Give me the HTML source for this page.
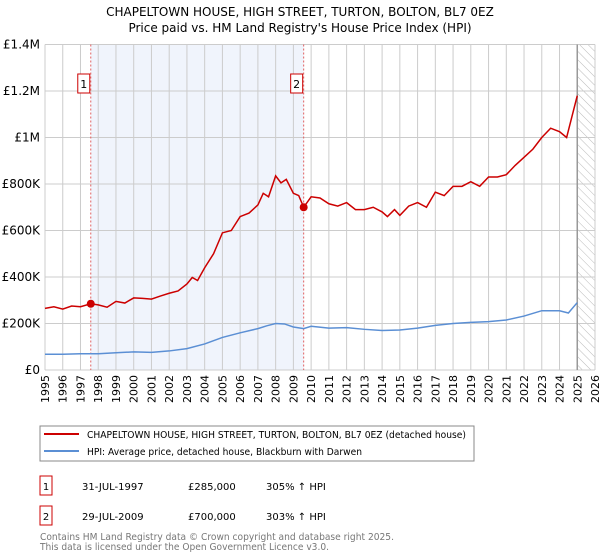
<!DOCTYPE html>
<html><head><meta charset="utf-8">
<style>
body{margin:0;background:#fff;font-family:"Liberation Sans","DejaVu Sans",sans-serif;}
#wrap{position:relative;width:600px;height:560px;overflow:hidden}
svg text{font-family:"DejaVu Sans","Liberation Sans",sans-serif;}
</style></head>
<body>
<div id="wrap">
<svg id="chart" width="600" height="560" xmlns="http://www.w3.org/2000/svg">
<defs>
<pattern id="hatch" width="6" height="6" patternUnits="userSpaceOnUse" patternTransform="rotate(-45)">
<line x1="0" y1="0" x2="0" y2="6" stroke="#bbb" stroke-width="1"/>
</pattern>
</defs>
<text x="300" y="16" text-anchor="middle" font-size="12" fill="#000">CHAPELTOWN HOUSE, HIGH STREET, TURTON, BOLTON, BL7 0EZ</text>
<text x="300" y="32" text-anchor="middle" font-size="12" fill="#000">Price paid vs. HM Land Registry's House Price Index (HPI)</text>
<g id="plot"></g>
<rect x="40" y="426" width="434" height="35" fill="#fff" stroke="#888"/>
<line x1="44" y1="434" x2="79" y2="434" stroke="#cc0000" stroke-width="2"/>
<text x="87" y="438" font-size="10" textLength="379" lengthAdjust="spacingAndGlyphs">CHAPELTOWN HOUSE, HIGH STREET, TURTON, BOLTON, BL7 0EZ (detached house)</text>
<line x1="44" y1="451" x2="79" y2="451" stroke="#5b8fd4" stroke-width="2"/>
<text x="87" y="455" font-size="10" textLength="275" lengthAdjust="spacingAndGlyphs">HPI: Average price, detached house, Blackburn with Darwen</text>
<rect x="40" y="476" width="12" height="19" fill="#fff" stroke="#cc0000"/>
<text x="46" y="490" font-size="10" text-anchor="middle">1</text>
<text x="82" y="490" font-size="10">31-JUL-1997</text>
<text x="188" y="490" font-size="10">£285,000</text>
<text x="266" y="490" font-size="10">305% ↑ HPI</text>
<rect x="40" y="506" width="12" height="19" fill="#fff" stroke="#cc0000"/>
<text x="46" y="520" font-size="10" text-anchor="middle">2</text>
<text x="82" y="520" font-size="10">29-JUL-2009</text>
<text x="188" y="520" font-size="10">£700,000</text>
<text x="266" y="520" font-size="10">303% ↑ HPI</text>
<text x="40" y="540" font-size="10" fill="#777" textLength="354" lengthAdjust="spacingAndGlyphs">Contains HM Land Registry data © Crown copyright and database right 2025.</text>
<text x="40" y="550" font-size="10" fill="#777" textLength="289" lengthAdjust="spacingAndGlyphs">This data is licensed under the Open Government Licence v3.0.</text>
</svg>
</div>
<script>
const yTicks=[0,200000,400000,600000,800000,1000000,1200000,1400000];
const yTickLabels=["£0","£200K","£400K","£600K","£800K","£1M","£1.2M","£1.4M"];
const xYears=[1995,1996,1997,1998,1999,2000,2001,2002,2003,2004,2005,2006,2007,2008,2009,2010,2011,2012,2013,2014,2015,2016,2017,2018,2019,2020,2021,2022,2023,2024,2025,2026];
const redX=[1995,1995.5,1996,1996.5,1997,1997.58,1998,1998.5,1999,1999.5,2000,2000.5,2001,2001.5,2002,2002.5,2003,2003.3,2003.6,2004,2004.5,2005,2005.5,2006,2006.5,2007,2007.3,2007.6,2008,2008.3,2008.6,2009,2009.3,2009.58,2010,2010.5,2011,2011.5,2012,2012.5,2013,2013.5,2014,2014.3,2014.7,2015,2015.5,2016,2016.5,2017,2017.5,2018,2018.5,2019,2019.5,2020,2020.5,2021,2021.5,2022,2022.5,2023,2023.5,2024,2024.4,2025];
const redY=[265000,272000,262000,275000,272000,285000,280000,270000,295000,288000,310000,308000,305000,318000,330000,340000,370000,398000,385000,440000,500000,590000,600000,660000,675000,710000,760000,745000,835000,805000,820000,760000,750000,700000,745000,740000,715000,705000,720000,690000,690000,700000,680000,660000,690000,665000,705000,720000,700000,765000,750000,790000,790000,810000,790000,830000,830000,840000,880000,915000,950000,1000000,1040000,1025000,1000000,1180000];
const blueX=[1995,1996,1997,1997.58,1998,1999,2000,2001,2002,2003,2004,2005,2006,2007,2007.5,2008,2008.5,2009,2009.58,2010,2011,2012,2013,2014,2015,2016,2017,2018,2019,2020,2021,2022,2023,2024,2024.5,2025];
const blueY=[68000,68000,70000,70000,70000,74000,78000,76000,82000,92000,112000,140000,160000,178000,190000,200000,198000,185000,178000,188000,180000,182000,175000,170000,172000,180000,192000,200000,205000,208000,215000,232000,255000,255000,245000,290000];
const sales=[[1997.58,285000,"1"],[2009.58,700000,"2"]];

const L=45,R=595,T=44.5,B=370;
const x=v=>L+(v-1995)/(2026-1995)*(R-L);
const y=v=>B-v/1400000*(B-T);
const NS="http://www.w3.org/2000/svg";
const g=document.getElementById('plot');
function mk(tag,attrs){const e=document.createElementNS(NS,tag);for(const k in attrs)e.setAttribute(k,attrs[k]);g.appendChild(e);return e;}

const shade=mk('rect',{x:x(sales[0][0]),y:T,width:x(sales[1][0])-x(sales[0][0]),height:B-T,fill:'#f0f4fc'});


const hatch=mk('rect',{x:x(2025),y:T,width:R-x(2025),height:B-T,fill:'url(#hatch)'});



xYears.forEach(yr=>{
 const l=mk('line',{x1:x(yr),x2:x(yr),y1:T,y2:B,stroke:'#cccccc','stroke-width':1});
 
 
 const t=mk('text',{x:0,y:0,'font-size':11,'text-anchor':'end',transform:`translate(${x(yr)+4},375) rotate(-90)`});
 t.textContent=yr;
 
 
});
yTicks.forEach((v,i)=>{
 const l=mk('line',{x1:L,x2:R,y1:y(v),y2:y(v),stroke:'#cccccc','stroke-width':1});
 
 
 const t=mk('text',{x:40,y:y(v)+4,'font-size':12,'text-anchor':'end'});
 t.textContent=yTickLabels[i];
 
 
});
const nowLine=mk('line',{x1:x(2025),x2:x(2025),y1:T,y2:B,stroke:'#999','stroke-width':1.5});



sales.forEach(s=>{
 const l=mk('line',{x1:x(s[0]),x2:x(s[0]),y1:T,y2:B,stroke:'#e06060','stroke-width':1,'stroke-dasharray':'2,2'});
 
 
 const r=mk('rect',{x:x(s[0])-13,y:74,width:12,height:19,fill:'#fff',stroke:'#cc0000'});
 
 
 const t=mk('text',{x:x(s[0])-7,y:88,'font-size':11,'text-anchor':'middle'});
 t.textContent=s[2];
 
 
});

const bp=mk('polyline',{points:blueX.map((v,i)=>x(v)+','+y(blueY[i])).join(' '),fill:'none',stroke:'#5b8fd4','stroke-width':1.5});


const rp=mk('polyline',{points:redX.map((v,i)=>x(v)+','+y(redY[i])).join(' '),fill:'none',stroke:'#cc0000','stroke-width':1.5});


sales.forEach(s=>{
 const c=mk('circle',{cx:x(s[0]),cy:y(s[1]),r:4,fill:'#cc0000'});
 
 
});
</script>
</body></html>
